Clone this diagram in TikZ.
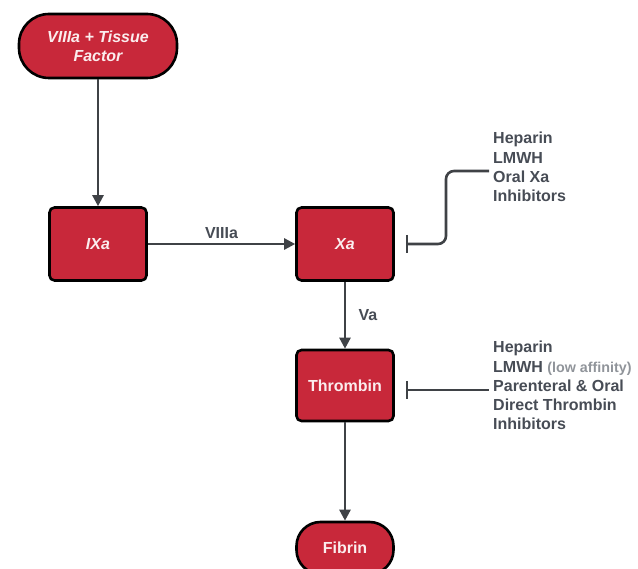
\documentclass[tikz,border=0pt]{standalone}
\usepackage{fontspec}
\setmainfont{Liberation Sans}
\usetikzlibrary{arrows.meta}
\definecolor{boxred}{HTML}{C8283A}
\definecolor{txtgray}{HTML}{474C55}
\definecolor{lightgray}{HTML}{90949A}
\definecolor{linegray}{HTML}{3F4246}
\definecolor{boxtxt}{HTML}{FBEDEE}
\tikzset{
  x=1pt,y=-1pt,
  redbox/.style={draw=black,line width=2.6pt,fill=boxred,rounded corners=5pt,minimum width=97pt,minimum height=73pt,text=boxtxt,font=\fontsize{16}{19}\selectfont\bfseries,align=center,inner sep=0pt},
  redpill/.style={draw=black,line width=2.6pt,fill=boxred,rounded corners=24pt,text=boxtxt,font=\fontsize{16}{19}\selectfont\bfseries,align=center,inner sep=0pt},
  conn/.style={draw=linegray,line width=2.5pt,-{Triangle[length=11pt,width=11pt]}},
  inhib/.style={draw=linegray,line width=2.6pt},
  lbl/.style={text=txtgray,font=\fontsize{16}{19.3}\selectfont\bfseries,align=left,inner sep=0pt,anchor=north west},
}
\begin{document}
\begin{tikzpicture}
\useasboundingbox (0,0) rectangle (638,569);
\node[redpill,minimum width=158pt,minimum height=64pt,rounded corners=30pt] (vii) at (98,46) {\itshape VIIIa + Tissue\\\itshape Factor};
\node[redbox] (ix) at (98,244) {\itshape IXa};
\node[redbox] (xa) at (345,244) {\itshape Xa};
\node[redbox,minimum height=71pt] (thr) at (345,385.5) {Thrombin};
\node[redpill,minimum width=97pt,minimum height=52pt] (fib) at (345,548) {Fibrin};
\draw[conn] (vii) -- (ix);
\draw[conn] (ix) -- node[above=1pt,text=txtgray,font=\fontsize{16}{19}\selectfont\bfseries] (lv) {VIIIa} (xa);
\draw[conn] (xa) -- node[right=9pt,text=txtgray,font=\fontsize{16}{19}\selectfont\bfseries] (lva) {Va} (thr);
\draw[conn] (thr) -- (fib);
\node[lbl] (ixinh) at (493,132) {Heparin\\LMWH\\Oral Xa\\Inhibitors};
\node[lbl] (thinh) at (493,341) {Heparin\\LMWH {\fontsize{14.3}{19.3}\selectfont\color{lightgray}(low affinity)}\\Parenteral \& Oral\\Direct Thrombin\\Inhibitors};
\coordinate (xbar) at (407,244);
\coordinate (xend) at (489,171);
\draw[inhib,rounded corners=8pt] (xbar) -- (446,244) -- (446,171) -- (xend);
\draw[inhib] (407,235) -- (407,253);
\coordinate (tbar) at (407,390);
\coordinate (tend) at (489,390);
\draw[inhib] (tbar) -- (tend);
\draw[inhib] (407,381) -- (407,399);
\end{tikzpicture}
\end{document}
